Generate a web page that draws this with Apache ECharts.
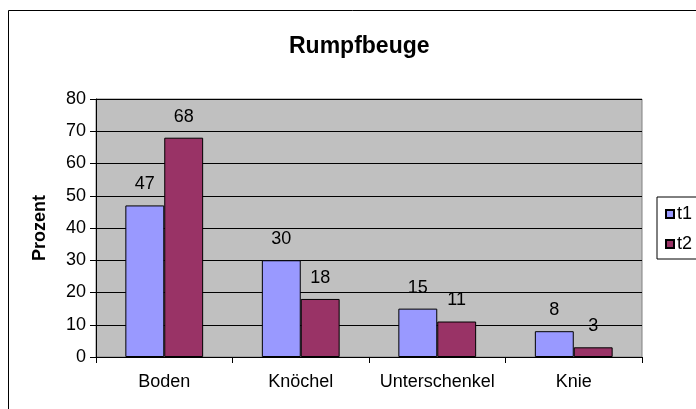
<!DOCTYPE html>
<html>
<head>
<meta charset="utf-8">
<script src="https://cdn.jsdelivr.net/npm/echarts@6/dist/echarts.min.js"></script>
<style>
  html, body { margin: 0; padding: 0; background: #fff; }
  #main { width: 696px; height: 409px; }
</style>
</head>
<body>
<div id="main"></div>
<script>
// Daten aus dem Diagramm
var categories = ['Boden', 'Knöchel', 'Unterschenkel', 'Knie'];
var t1Values = [47, 30, 15, 8];
var t2Values = [68, 18, 11, 3];
var seriesNames = ['t1', 't2'];

var font = 'Liberation Sans, Arial, sans-serif';
var chart = echarts.init(document.getElementById('main'), null, { renderer: 'canvas' });

var labelStyle = {
  show: true,
  position: 'top',
  distance: 12,
  color: '#000',
  fontFamily: font,
  fontSize: 18
};

chart.setOption({
  animation: false,
  backgroundColor: '#fff',
  textStyle: { fontFamily: font },
  title: {
    text: 'Rumpfbeuge',
    left: 284,
    top: 30,
    textStyle: { fontFamily: font, fontSize: 23, fontWeight: 'bold', color: '#000' }
  },
  // äußerer Rahmen
  graphic: [{
    type: 'rect',
    shape: { x: 8.5, y: 10.5, width: 800, height: 600 },
    style: { fill: null, stroke: '#000', lineWidth: 1 },
    silent: true
  }],
  legend: {
    orient: 'vertical',
    left: 657,
    top: 197,
    padding: [8, 40, 6, 8],
    itemGap: 12,
    itemWidth: 8,
    itemHeight: 8,
    borderColor: '#000',
    borderWidth: 1,
    icon: 'rect',
    textStyle: { fontFamily: font, fontSize: 18, color: '#000', padding: [0, 0, 0, -2] },
    data: seriesNames
  },
  grid: {
    left: 96,
    top: 99,
    width: 546,
    height: 258,
    show: true,
    backgroundColor: '#C0C0C0',
    borderColor: '#808080',
    borderWidth: 1
  },
  xAxis: {
    type: 'category',
    data: categories,
    axisLine: { lineStyle: { color: '#000', width: 1 } },
    axisTick: { show: true, interval: 0, length: 6, lineStyle: { color: '#000' } },
    axisLabel: { interval: 0, color: '#000', fontFamily: font, fontSize: 18, margin: 16 }
  },
  yAxis: {
    type: 'value',
    min: 0,
    max: 80,
    interval: 10,
    name: 'Prozent',
    nameLocation: 'middle',
    nameGap: 47,
    nameRotate: 90,
    nameTextStyle: { fontFamily: font, fontSize: 18, fontWeight: 'bold', color: '#000' },
    axisLine: { show: true, lineStyle: { color: '#000', width: 1 } },
    axisTick: { show: true, length: 6, lineStyle: { color: '#000' } },
    axisLabel: { color: '#000', fontFamily: font, fontSize: 18, margin: 10 },
    splitLine: { show: true, lineStyle: { color: '#000', width: 1 } }
  },
  series: [{
    name: seriesNames[0],
    type: 'bar',
    data: t1Values,
    barGap: '0%',
    barCategoryGap: '43%',
    itemStyle: { color: '#9999FF', borderColor: '#000', borderWidth: 1 },
    label: labelStyle
  }, {
    name: seriesNames[1],
    type: 'bar',
    data: t2Values,
    itemStyle: { color: '#993366', borderColor: '#000', borderWidth: 1 },
    label: labelStyle
  }]
});
</script>
</body>
</html>
